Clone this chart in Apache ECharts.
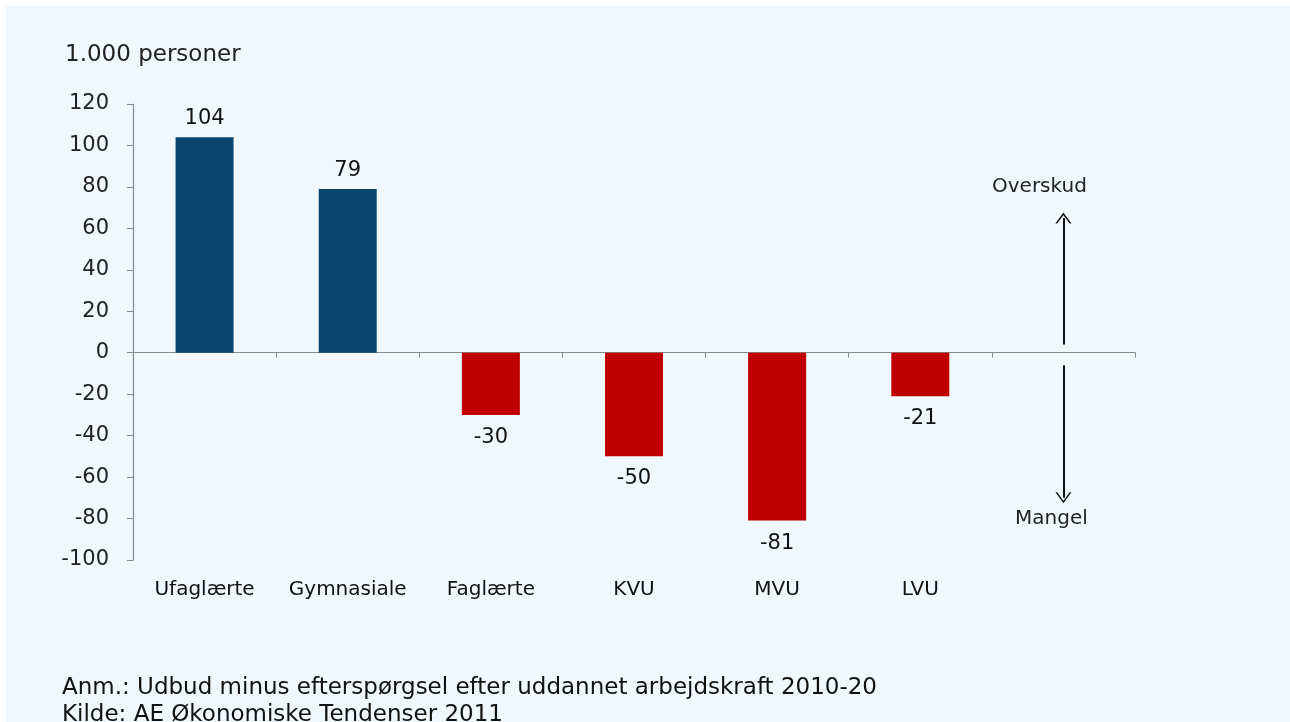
<!DOCTYPE html>
<html>
<head>
<meta charset="utf-8">
<script src="https://cdn.jsdelivr.net/npm/echarts@6/dist/echarts.min.js"></script>
<style>
  html, body { margin: 0; padding: 0; background: #ffffff; }
  #chart { width: 1290px; height: 722px; }
</style>
</head>
<body>
<div id="chart"></div>
<script>
// ---- data ----
const categories = ['Ufaglærte', 'Gymnasiale', 'Faglærte', 'KVU', 'MVU', 'LVU', ''];
const values = [104, 79, -30, -50, -81, -21, null];
const yTicks = { min: -100, max: 120, step: 20 };
const unitLabel = '1.000 personer';
const noteLines = [
  'Anm.: Udbud minus efterspørgsel efter uddannet arbejdskraft 2010-20',
  'Kilde: AE Økonomiske Tendenser 2011'
];
// annotation arrows (category index, from value, to value)
const arrowUp = [6, 4, 65];
const arrowDown = [6, -6, -70];
const upText = ['Overskud', 80];
const downText = ['Mangel', -80];

const BLUE = '#0B456E';
const RED = '#C00000';
const FONT = '"DejaVu Sans", "Liberation Sans", Arial, sans-serif';

const chevron = 'path://M0,10 L5,0 L10,10 L8.9,10 L5,2.4 L1.1,10 Z';

const barData = values.map(v => {
  if (v === null) return null;
  return {
    value: v,
    itemStyle: { color: v >= 0 ? BLUE : RED },
    label: {
      show: true,
      position: v >= 0 ? 'top' : 'bottom',
      distance: v >= 0 ? 8 : 12
    }
  };
});

const chart = echarts.init(document.getElementById('chart'), null, { renderer: 'canvas' });
chart.setOption({
  backgroundColor: '#ffffff',
  animation: false,
  graphic: [{
    type: 'rect',
    left: 6, top: 6,
    shape: { width: 1284, height: 716 },
    style: { fill: '#F0F7FD' },
    z: -100,
    silent: true
  }],
  title: [{
    text: unitLabel,
    left: 60, top: 39,
    textStyle: { fontFamily: FONT, fontSize: 23, fontWeight: 'normal', color: '#222' }
  }, {
    text: noteLines.join('\n'),
    left: 57, top: 670,
    textStyle: { fontFamily: FONT, fontSize: 23, fontWeight: 'normal', color: '#111', lineHeight: 27 }
  }],
  grid: { left: 133, right: 155, top: 104, bottom: 162, containLabel: false },
  xAxis: [{
    type: 'category',
    data: categories,
    boundaryGap: true,
    axisLine: { show: true, onZero: true, lineStyle: { color: '#8a8a8a', width: 1.2 } },
    axisTick: { show: true, inside: false, length: 5, interval: 0, lineStyle: { color: '#8a8a8a' } },
    axisLabel: { show: false },
    splitLine: { show: false }
  }, {
    type: 'category',
    data: categories,
    position: 'bottom',
    axisLine: { show: false, onZero: false },
    axisTick: { show: false },
    axisLabel: { show: true, interval: 0, margin: 20, fontFamily: FONT, fontSize: 20, color: '#111' },
    splitLine: { show: false }
  }],
  yAxis: {
    type: 'value',
    min: yTicks.min, max: yTicks.max, interval: yTicks.step,
    axisLine: { show: true, lineStyle: { color: '#8a8a8a', width: 1.2 } },
    axisTick: { show: true, inside: false, length: 6, lineStyle: { color: '#8a8a8a' } },
    axisLabel: { margin: 24, fontFamily: FONT, fontSize: 21, color: '#222' },
    splitLine: { show: false }
  },
  series: [{
    type: 'bar',
    xAxisIndex: 0,
    data: barData,
    barWidth: 58,
    label: { fontFamily: FONT, fontSize: 21, color: '#111' },
    markLine: {
      silent: true,
      symbol: ['none', chevron],
      symbolSize: [16, 11],
      lineStyle: { color: '#111', width: 2, type: 'solid' },
      label: { show: false },
      data: [
        [{ coord: [arrowUp[0], arrowUp[1]] }, { coord: [arrowUp[0], arrowUp[2]] }],
        [{ coord: [arrowDown[0], arrowDown[1]] }, { coord: [arrowDown[0], arrowDown[2]] }]
      ]
    },
    markPoint: {
      silent: true,
      symbol: 'circle',
      symbolSize: 0,
      label: { show: true, position: 'inside', fontFamily: FONT, fontSize: 20, color: '#222' },
      data: [
        { coord: [6, upText[1]], value: upText[0], label: { formatter: upText[0], offset: [-24, 0] } },
        { coord: [6, downText[1]], value: downText[0], label: { formatter: downText[0], offset: [-12, 0] } }
      ]
    }
  }]
});
</script>
</body>
</html>
